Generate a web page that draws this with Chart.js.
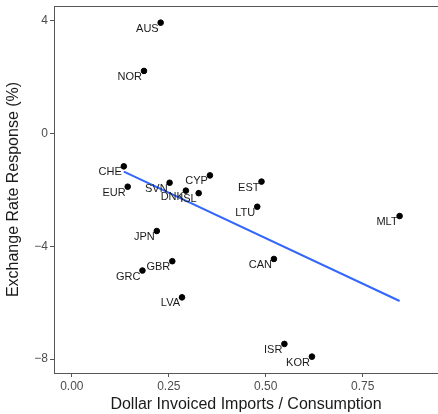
<!DOCTYPE html>
<html>
<head>
<meta charset="utf-8">
<script src="https://cdn.jsdelivr.net/npm/chart.js@4.4.1/dist/chart.umd.min.js"></script>
<style>
  html, body { margin: 0; padding: 0; background: #fff; }
  #wrap { width: 438px; height: 414px; }
</style>
</head>
<body>
<div id="wrap"><canvas id="scatterChart" width="438" height="414"></canvas></div>
<script>
// country codes and values
const countries = ['AUS', 'NOR', 'CHE', 'EUR', 'SVN', 'DNK', 'ISL', 'CYP', 'EST', 'LTU', 'MLT', 'CAN', 'ISR', 'KOR', 'JPN', 'GBR', 'GRC', 'LVA'];
const dollarShare = [0.229, 0.186, 0.134, 0.144, 0.252, 0.294, 0.327, 0.356, 0.489, 0.478, 0.845, 0.521, 0.548, 0.619, 0.219, 0.259, 0.182, 0.284];
const fxResponse = [3.92, 2.21, -1.17, -1.89, -1.75, -2.03, -2.12, -1.49, -1.71, -2.60, -2.93, -4.45, -7.46, -7.91, -3.46, -4.53, -4.86, -5.81];

// fitted line end points
const fitX = [0.134, 0.845];
const fitY = [-1.36, -5.94];

const xTicks = [0, 0.25, 0.5, 0.75];
const yTicks = [4, 0, -4, -8];

const points = dollarShare.map((x, i) => ({ x: x, y: fxResponse[i] }));
const fitLine = fitX.map((x, i) => ({ x: x, y: fitY[i] }));

const countryLabels = {
    id: 'countryLabels',
    afterDatasetsDraw(chart) {
        const ctx = chart.ctx;
        const meta = chart.getDatasetMeta(1);
        ctx.save();
        ctx.font = '11px "Liberation Sans", Arial, sans-serif';
        ctx.fillStyle = '#1a1a1a';
        ctx.textAlign = 'right';
        ctx.textBaseline = 'middle';
        meta.data.forEach((pt, i) => {
            ctx.fillText(countries[i], pt.x - 2, pt.y + 6);
        });
        ctx.restore();
    }
};

// top frame line like the original
const topLine = {
    id: 'topLine',
    afterDraw(chart) {
        const { ctx, chartArea } = chart;
        ctx.save();
        ctx.strokeStyle = '#555';
        ctx.lineWidth = 1;
        ctx.beginPath();
        ctx.moveTo(chartArea.left, chartArea.top + 0.5);
        ctx.lineTo(chartArea.right, chartArea.top + 0.5);
        ctx.stroke();
        ctx.restore();
    }
};

const noPad = (scale) => {
    scale.paddingLeft = 0;
    scale.paddingRight = 0;
    scale.paddingTop = 0;
    scale.paddingBottom = 0;
};

const ConfigScatter = {
    type: 'scatter',
    data: {
        datasets: [{
            type: 'line',
            data: fitLine,
            borderColor: '#3366FF',
            borderWidth: 2,
            pointRadius: 0,
            fill: false
        }, {
            data: points,
            backgroundColor: '#000',
            borderColor: '#000',
            pointRadius: 2.8,
            pointHoverRadius: 2.8
        }]
    },
    options: {
        responsive: false,
        animation: false,
        layout: { autoPadding: false, padding: { top: 6, right: 0, left: 0, bottom: 0 } },
        plugins: {
            legend: { display: false },
            tooltip: { enabled: false }
        },
        scales: {
            x: {
                type: 'linear',
                min: -0.046,
                max: 0.944,
                afterBuildTicks: (scale) => { scale.ticks = xTicks.map(v => ({ value: v })); },
                afterFit: (scale) => { scale.height = 41; noPad(scale); },
                grid: { drawOnChartArea: false, drawTicks: true, tickLength: 4, color: '#555' },
                border: { display: true, color: '#555', width: 1 },
                ticks: {
                    color: '#4d4d4d',
                    padding: 2,
                    font: { family: '"Liberation Sans", Arial, sans-serif', size: 12 },
                    callback: (v) => v.toFixed(2)
                },
                title: {
                    display: true,
                    text: 'Dollar Invoiced Imports / Consumption',
                    color: '#1a1a1a',
                    padding: { top: 1, bottom: 0 },
                    font: { family: '"Liberation Sans", Arial, sans-serif', size: 16 }
                }
            },
            y: {
                type: 'linear',
                min: -8.49,
                max: 4.51,
                afterBuildTicks: (scale) => { scale.ticks = yTicks.map(v => ({ value: v })); },
                afterFit: (scale) => { scale.width = 54; noPad(scale); },
                grid: { drawOnChartArea: false, drawTicks: true, tickLength: 4, color: '#555' },
                border: { display: true, color: '#555', width: 1 },
                ticks: {
                    color: '#4d4d4d',
                    padding: 2,
                    font: { family: '"Liberation Sans", Arial, sans-serif', size: 12 },
                    callback: (v) => (v < 0 ? '\u2212' + Math.abs(v) : String(v))
                },
                title: {
                    display: true,
                    text: 'Exchange Rate Response (%)',
                    color: '#1a1a1a',
                    padding: { top: 4, bottom: 2 },
                    font: { family: '"Liberation Sans", Arial, sans-serif', size: 16 }
                }
            }
        }
    },
    plugins: [countryLabels, topLine]
};

const ChartScatter = new Chart(
    document.getElementById('scatterChart'),
    ConfigScatter
);
</script>
</body>
</html>
